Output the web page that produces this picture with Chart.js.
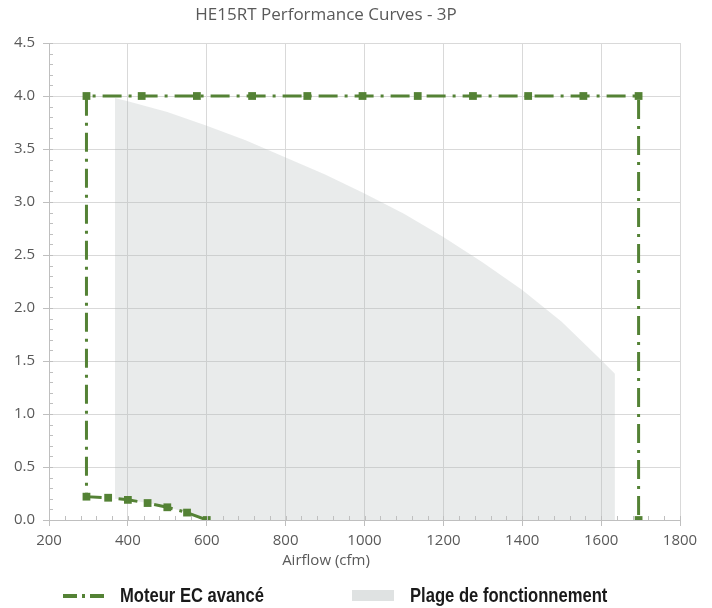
<!DOCTYPE html>
<html>
<head>
<meta charset="utf-8">
<script src="https://cdn.jsdelivr.net/npm/chart.js@4"></script>
<style>
  html, body { margin: 0; padding: 0; background: #fff; }
  #wrap { width: 712px; height: 608px; }
</style>
</head>
<body>
<div id="wrap"><canvas id="perfChart" width="712" height="608"></canvas></div>
<script>
// textes
const chartTitle = 'HE15RT Performance Curves - 3P';
const xAxisTitle = 'Airflow (cfm)';
const ecLabel = 'Moteur EC avancé';
const rangeLabel = 'Plage de fonctionnement';

// moteur EC : courbe basse, puis cadre
const ecX = [600, 550, 500, 450, 400, 350, 295, 295, 435, 575, 715, 855, 995, 1135, 1275, 1415, 1555, 1695, 1695];
const ecY = [0, 0.07, 0.12, 0.16, 0.19, 0.21, 0.22, 4.0, 4.0, 4.0, 4.0, 4.0, 4.0, 4.0, 4.0, 4.0, 4.0, 4.0, 0];

// plage de fonctionnement : limite haute et limite basse
const rangeTopX = [367, 400, 500, 600, 700, 800, 900, 1000, 1100, 1200, 1300, 1400, 1500, 1600, 1635];
const rangeTopY = [3.98, 3.95, 3.85, 3.72, 3.58, 3.42, 3.26, 3.08, 2.89, 2.67, 2.43, 2.17, 1.87, 1.51, 1.38];
const rangeLowX = [367, 400, 450, 500, 550, 600, 1635];
const rangeLowY = [0.20, 0.19, 0.16, 0.12, 0.07, 0, 0];

// axes
const xTicks = [200, 400, 600, 800, 1000, 1200, 1400, 1600, 1800];
const yTicks = [0, 0.5, 1.0, 1.5, 2.0, 2.5, 3.0, 3.5, 4.0, 4.5];

const green = '#548235';
const greyFill = 'rgba(175, 182, 182, 0.28)';
const textGrey = '#595959';
const gridGrey = '#d9d9d9';
const ecDash = [19, 7, 3, 7];

function toPoints(xs, ys) {
    return xs.map((x, i) => ({ x: x, y: ys[i] }));
}

// texte gras étroit (pas de police "narrow" installée)
function narrowText(ctx, text, x, y, squeeze) {
    ctx.save();
    ctx.translate(x, y);
    ctx.scale(squeeze, 1);
    ctx.fillText(text, 0, 0);
    ctx.restore();
}

// titre, titre d'axe, petites graduations et légende
const decorPlugin = {
    id: 'decor',
    afterDraw(chart) {
        const ctx = chart.ctx;
        const xs = chart.scales.x;
        const ys = chart.scales.y;
        const area = chart.chartArea;
        ctx.save();

        // petites graduations
        ctx.strokeStyle = '#bfbfbf';
        ctx.lineWidth = 1;
        ctx.beginPath();
        for (let v = xTicks[0]; v <= xTicks[xTicks.length - 1]; v += 40) {
            const px = Math.round(xs.getPixelForValue(v)) + 0.5;
            ctx.moveTo(px, area.bottom);
            ctx.lineTo(px, area.bottom - 4);
        }
        for (let v = 0; v <= 4.5001; v += 0.1) {
            const py = Math.round(ys.getPixelForValue(v)) + 0.5;
            ctx.moveTo(area.left, py);
            ctx.lineTo(area.left + 4, py);
        }
        ctx.stroke();

        // titre
        ctx.fillStyle = textGrey;
        ctx.textAlign = 'center';
        ctx.textBaseline = 'middle';
        ctx.font = '17px "Open Sans"';
        ctx.fillText(chartTitle, 326, 15);

        // titre de l'axe x
        ctx.font = '15px "Open Sans"';
        ctx.fillText(xAxisTitle, 326, 561);

        // légende
        const ly = 596;
        ctx.strokeStyle = green;
        ctx.lineWidth = 4;
        ctx.setLineDash([14, 5, 3, 5]);
        ctx.beginPath();
        ctx.moveTo(63, ly);
        ctx.lineTo(105, ly);
        ctx.stroke();
        ctx.setLineDash([]);

        ctx.fillStyle = '#dfe2e2';
        ctx.fillRect(352, ly - 6, 42, 11);

        ctx.fillStyle = '#1a1a1a';
        ctx.textAlign = 'left';
        ctx.font = 'bold 20px "Liberation Sans", Arial, sans-serif';
        narrowText(ctx, ecLabel, 120, ly, 0.83);
        narrowText(ctx, rangeLabel, 410, ly, 0.83);

        ctx.restore();
    }
};

const ctx = document.getElementById('perfChart').getContext('2d');
new Chart(ctx, {
    type: 'scatter',
    data: {
        datasets: [
            {
                label: ecLabel,
                data: toPoints(ecX, ecY),
                showLine: true,
                borderColor: green,
                borderWidth: 3,
                borderDash: ecDash,
                borderCapStyle: 'butt',
                pointStyle: 'rect',
                pointRadius: 5.5,
                pointBackgroundColor: green,
                pointBorderWidth: 0,
                fill: false,
                order: 0
            },
            {
                label: rangeLabel,
                data: toPoints(rangeTopX, rangeTopY),
                showLine: true,
                borderWidth: 0,
                borderColor: 'rgba(0,0,0,0)',
                backgroundColor: greyFill,
                pointRadius: 0,
                fill: 2,
                order: 1
            },
            {
                label: 'limite basse',
                data: toPoints(rangeLowX, rangeLowY),
                showLine: true,
                borderWidth: 0,
                borderColor: 'rgba(0,0,0,0)',
                pointRadius: 0,
                fill: false,
                order: 2
            }
        ]
    },
    options: {
        responsive: false,
        animation: false,
        layout: { padding: { top: 43, right: 32, left: 0, bottom: 0 } },
        scales: {
            x: {
                type: 'linear',
                min: 200,
                max: 1800,
                afterFit: s => { s.height = 88; },
                afterBuildTicks: s => { s.ticks = xTicks.map(v => ({ value: v })); },
                grid: { color: gridGrey, tickColor: '#bfbfbf', tickLength: 6 },
                border: { color: '#bfbfbf' },
                ticks: {
                    color: textGrey,
                    padding: 6,
                    maxRotation: 0,
                    font: { family: 'Open Sans', size: 15 },
                    callback: v => String(v)
                }
            },
            y: {
                min: 0,
                max: 4.5,
                afterFit: s => { s.width = 49; },
                afterBuildTicks: s => { s.ticks = yTicks.map(v => ({ value: v })); },
                grid: { color: gridGrey, tickColor: '#bfbfbf', tickLength: 6 },
                border: { color: '#bfbfbf' },
                ticks: {
                    color: textGrey,
                    padding: 8,
                    font: { family: 'Open Sans', size: 15 },
                    callback: v => Number(v).toFixed(1)
                }
            }
        },
        plugins: {
            legend: { display: false },
            title: { display: false },
            tooltip: { enabled: false }
        }
    },
    plugins: [decorPlugin]
});
</script>
</body>
</html>
